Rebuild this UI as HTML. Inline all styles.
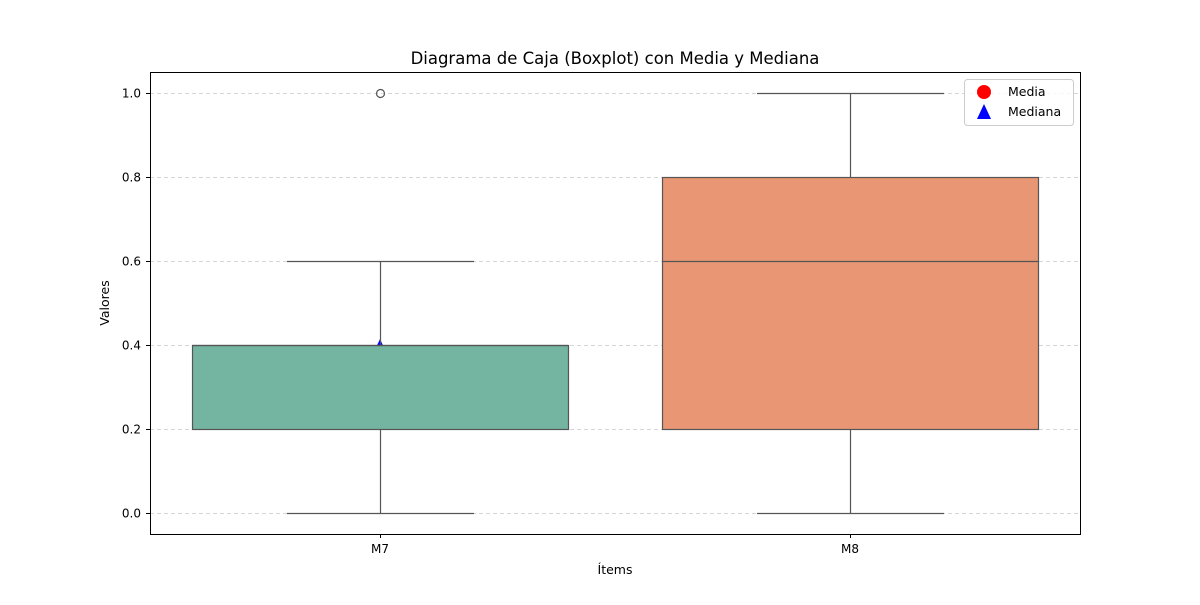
<!DOCTYPE html>
<html><head><meta charset="utf-8"><style>
body{margin:0;background:#fff;font-family:"Liberation Sans","DejaVu Sans",sans-serif}
</style></head><body>
<svg width="1200" height="600" xmlns="http://www.w3.org/2000/svg" id="chart" font-family="DejaVu Sans, Liberation Sans, sans-serif">
<rect width="1200" height="600" fill="#fff"/>
<g id="grid"></g>
<g id="marks"></g>
<g id="boxes"></g>
<rect x="150.5" y="72.5" width="930" height="462" fill="none" stroke="#000" stroke-width="1"/>
<g id="axes" font-size="12"></g>
<text x="615" y="64" text-anchor="middle" font-size="16.5">Diagrama de Caja (Boxplot) con Media y Mediana</text>
<text x="615" y="574" text-anchor="middle" font-size="12.5">Ítems</text>
<text x="109" y="303" text-anchor="middle" font-size="12.5" transform="rotate(-90 109 303)">Valores</text>
<g>
<rect x="964.5" y="79.5" width="109" height="46" rx="3" fill="#fff" fill-opacity="0.8" stroke="#ccc"/>
<circle cx="984" cy="92" r="7" fill="#ff0000"/>
<text x="1008" y="96" font-size="12.5">Media</text>
<polygon points="984,104 991,119 977,119" fill="#0000ff"/>
<text x="1008" y="116" font-size="12.5">Mediana</text>
</g>
</svg>
<script>
const categories=["M7","M8"];
const q1=[0.2,0.2];
const q3=[0.4,0.8];
const medians=[0.4,0.6];
const whiskLo=[0.0,0.0];
const whiskHi=[0.6,1.0];
const means=[0.33,0.5];
const outliers=[[1.0],[]];
const colors=["#73b5a1","#e89674"];
const yTicks=[0.0,0.2,0.4,0.6,0.8,1.0];
const NS="http://www.w3.org/2000/svg";
function y(v){return 513-420*v;}
function xc(i){return 380+470*i;}
function mk(tag,attrs,parent){const e=document.createElementNS(NS,tag);for(const k in attrs)e.setAttribute(k,attrs[k]);parent.appendChild(e);return e;}
const grid=document.getElementById('grid'),axes=document.getElementById('axes'),marks=document.getElementById('marks'),boxes=document.getElementById('boxes');
yTicks.forEach(t=>{
  const l=mk('line',{x1:150,x2:1080,y1:y(t)+0.5,y2:y(t)+0.5,stroke:'#c8c8c8','stroke-dasharray':'4,3','stroke-width':0.8},grid);
  
  
  mk('line',{x1:146,x2:150,y1:y(t)+0.5,y2:y(t)+0.5,stroke:'#000'},axes);
  const tx=mk('text',{x:141,y:y(t)+4.5,'text-anchor':'end'},axes);tx.textContent=t.toFixed(1);
  
  
});
categories.forEach((c,i)=>{
  const cx=xc(i);
  mk('line',{x1:cx+0.5,x2:cx+0.5,y1:534,y2:538,stroke:'#000'},axes);
  const tx=mk('text',{x:cx,y:553,'text-anchor':'middle'},axes);tx.textContent=c;
  
  
  const m=mk('circle',{cx:cx,cy:y(means[i]),r:7,fill:'#ff0000'},marks);
  
  
  const my=y(medians[i]);
  const tr=mk('polygon',{points:`${cx},${my-6} ${cx+7},${my+9} ${cx-7},${my+9}`,fill:'#0000ff'},marks);
  
  
  const g=mk('g',{stroke:'#555','stroke-width':1.2},boxes);
  
  
  mk('line',{x1:cx+0.5,x2:cx+0.5,y1:y(whiskHi[i]),y2:y(q3[i])},g);
  mk('line',{x1:cx+0.5,x2:cx+0.5,y1:y(q1[i]),y2:y(whiskLo[i])},g);
  mk('line',{x1:cx-93,x2:cx+94,y1:y(whiskHi[i])+0.5,y2:y(whiskHi[i])+0.5},g);
  mk('line',{x1:cx-93,x2:cx+94,y1:y(whiskLo[i])+0.5,y2:y(whiskLo[i])+0.5},g);
  mk('rect',{x:cx-188+0.5,y:y(q3[i])+0.5,width:376,height:y(q1[i])-y(q3[i]),fill:colors[i]},g);
  mk('line',{x1:cx-188,x2:cx+188,y1:my+0.5,y2:my+0.5},g);
  outliers[i].forEach(o=>{
    const oc=mk('circle',{cx:cx+0.5,cy:y(o)+0.5,r:4,fill:'none',stroke:'#555','stroke-width':1.2},g);
    
    
  });
});
</script>
</body></html>
